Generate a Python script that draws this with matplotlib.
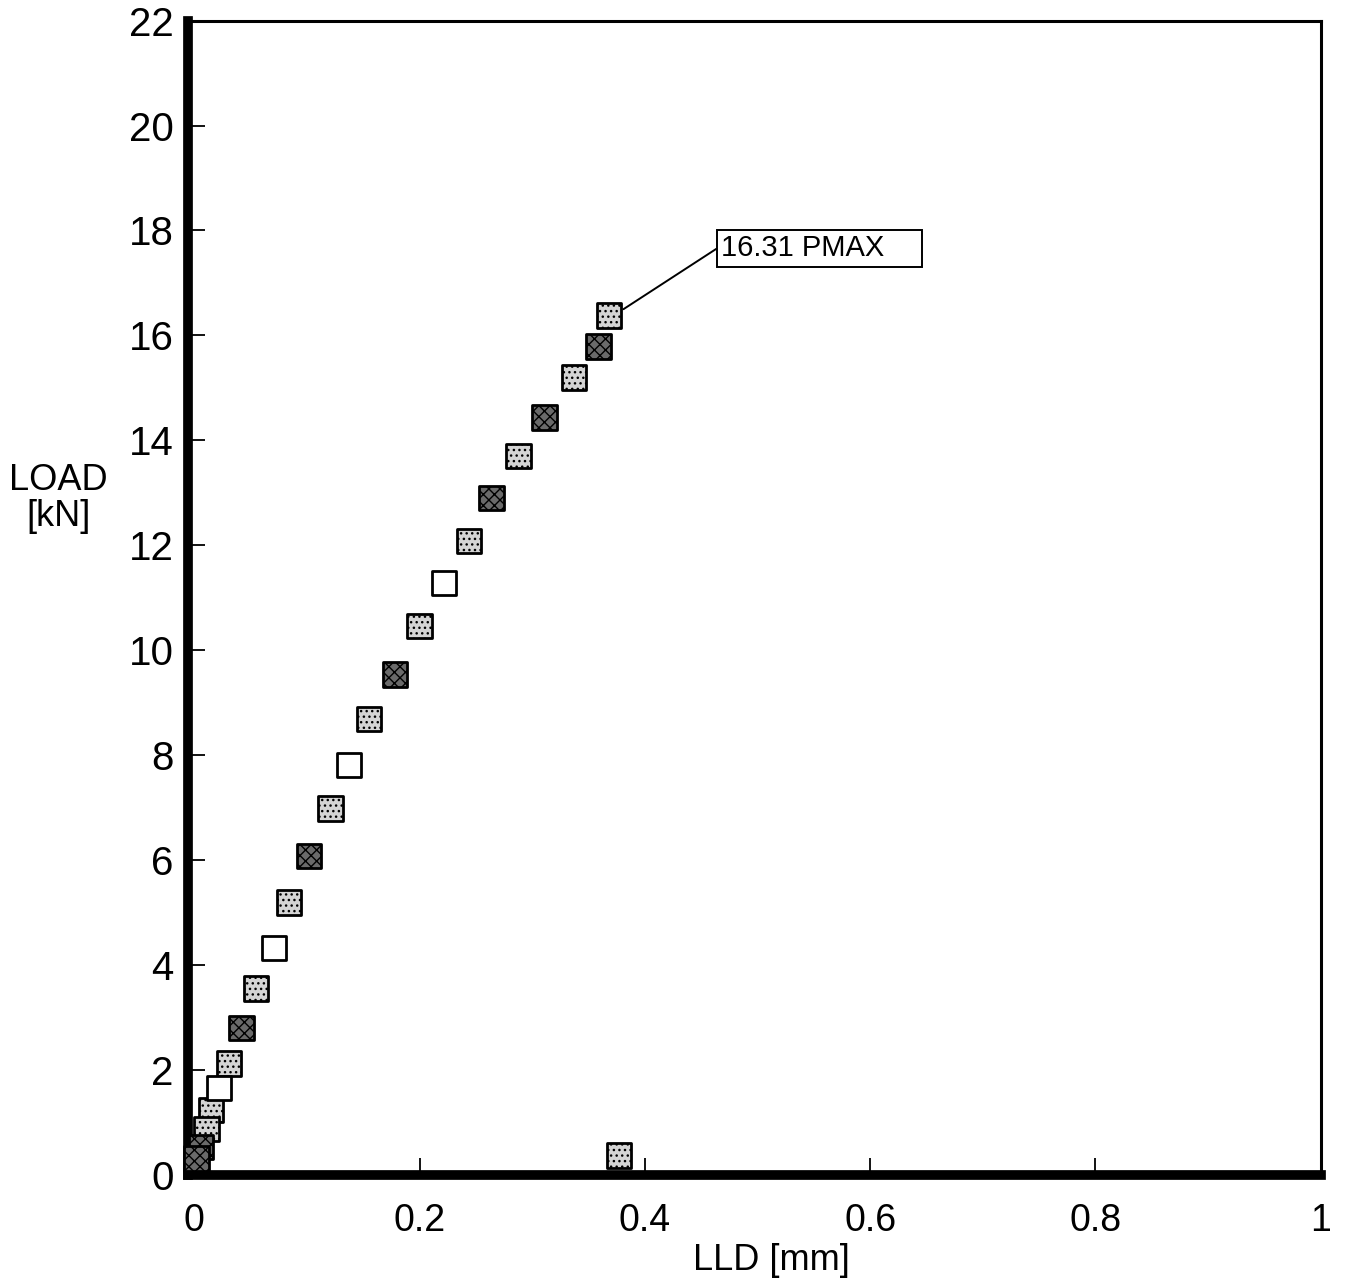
import matplotlib.pyplot as plt

plt.rcParams['font.family'] = ['Liberation Sans', 'DejaVu Sans']

# load vs load-line displacement
lld = [0.368, 0.359, 0.337, 0.311, 0.288, 0.264, 0.244, 0.222, 0.200, 0.178,
       0.155, 0.137, 0.121, 0.102, 0.084, 0.071, 0.055, 0.042, 0.031, 0.022,
       0.015, 0.011, 0.006, 0.002, 0.377]
load = [16.38, 15.79, 15.20, 14.44, 13.70, 12.90, 12.08, 11.28, 10.46, 9.54,
        8.69, 7.81, 6.99, 6.08, 5.20, 4.32, 3.56, 2.80, 2.13, 1.66,
        1.24, 0.88, 0.54, 0.32, 0.38]
# fill pattern of each marker: d = dotted, k = dark, w = white
fill = ['d', 'k', 'd', 'k', 'd', 'k', 'd', 'w', 'd', 'k',
        'd', 'w', 'd', 'k', 'd', 'w', 'd', 'k', 'd', 'w',
        'd', 'd', 'k', 'k', 'd']
pmax = 16.31

styles = {'d': ('#d4d4d4', '...'), 'k': ('#6a6a6a', 'xxx'), 'w': ('white', None)}

fig = plt.figure(figsize=(13.49, 12.83), dpi=100)
ax = fig.add_axes([0.139, 0.084, 0.840, 0.900])

for key, (fc, hatch) in styles.items():
    xs = [x for x, f in zip(lld, fill) if f == key]
    ys = [y for y, f in zip(load, fill) if f == key]
    ax.scatter(xs, ys, marker='s', s=310, facecolor=fc, edgecolor='black',
               linewidth=2.0, hatch=hatch, zorder=3, clip_on=False)

ax.annotate(f"{pmax:.2f} PMAX    ", xy=(lld[0] + 0.013, load[0] + 0.12),
            xytext=(0.468, 17.66), fontsize=21, va='center', ha='left',
            bbox=dict(boxstyle='square,pad=0.15', fc='white', ec='black', lw=1.4),
            arrowprops=dict(arrowstyle='-', color='black', lw=1.4,
                            shrinkA=0, shrinkB=0, relpos=(0, 0.6)))

ax.set_xlim(-0.006, 1.0)
ax.set_ylim(0, 22)
ax.set_xticks([0, 0.2, 0.4, 0.6, 0.8, 1])
ax.set_xticklabels(['0', '0.2', '0.4', '0.6', '0.8', '1'])
ax.set_yticks(range(0, 23, 2))
ax.tick_params(direction='in', length=12, width=1.3, labelsize=27)
ax.tick_params(axis='x', pad=20)
ax.tick_params(axis='y', pad=10, labelsize=29)

ax.spines['left'].set_linewidth(7)
ax.spines['bottom'].set_linewidth(7)
ax.spines['top'].set_linewidth(2.2)
ax.spines['right'].set_linewidth(2.2)

ax.set_xlabel("LLD [mm]", fontsize=26, va='center')
ax.xaxis.set_label_coords(0.515, -0.074)
ax.set_ylabel("LOAD\n[kN]", fontsize=26, rotation=0,
              va='center', ha='center', linespacing=1.05)
ax.yaxis.set_label_coords(-0.114, 0.586)

plt.savefig("out.png", dpi=100)
